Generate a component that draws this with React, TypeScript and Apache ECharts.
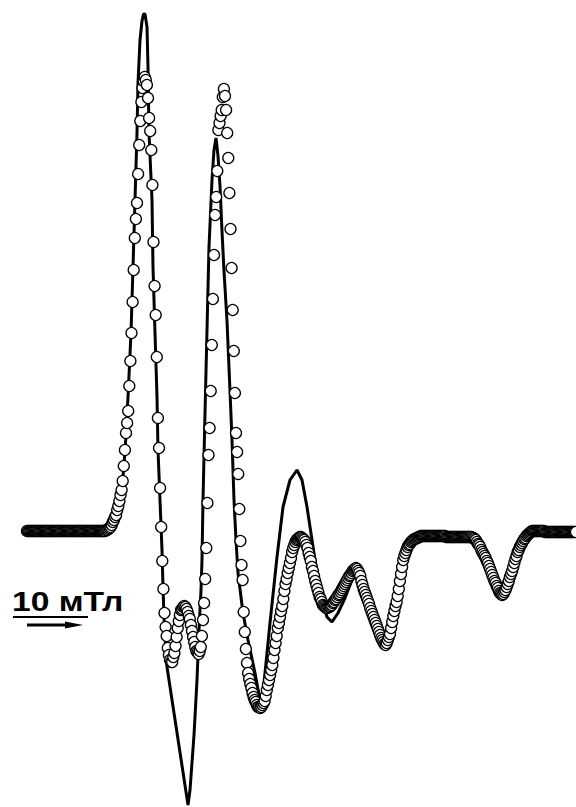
import React, { useEffect, useRef } from "react";
import * as echarts from "echarts";

// Experimental spectrum: uniform field sampling (arbitrary field units), signal in arbitrary units
const EXP_FIELD_START = 27;
const EXP_FIELD_STEP = 1.1;
const expSignal: number[] = [
  0, 0, 0, 0, 0, 0, 0, 0, 0, 0,
  0, 0, 0, 0, 0, 0, 0, 0, 0, 0,
  0, 0, 0, 0, 0, 0, 0, 0, 0, 0,
  0, 0, 0, 0, 0, 0, 0, 0, 0, 0,
  0, 0, 0, 0, 0, 0, 0, 0, 0, 0,
  0, 0, 0, 0, 0, 0, 0, 0, 0, 0,
  0, 0, 0, 0, 0, 0, 0, 0, 0, 0,
  0, 0, 1, 1, 2, 3, 4, 6, 9, 11,
  14, 16, 21, 25, 30, 36, 41, 50, 65, 81,
  98, 108, 120, 145, 170, 198, 229, 261, 293, 312,
  328, 357, 386, 410, 429, 443, 450, 454, 451, 446,
  433, 413, 400, 381, 346, 289, 245, 216, 174, 113,
  83, 43, 4, -30, -58, -82, -96, -105, -117, -124,
  -129, -131, -131, -126, -122, -115, -106, -97, -90, -84,
  -79, -78, -76, -75, -76, -78, -81, -85, -88, -94,
  -100, -106, -111, -116, -120, -121, -123, -120, -116, -105,
  -89, -72, -48, -17, 28, 76, 103, 140, 186, 232,
  276, 316, 334, 360, 401, 408, 415, 421, 434, 442,
  435, 421, 398, 373, 338, 302, 263, 221, 180, 138,
  98, 79, 57, 22, -10, -34, -49, -81, -101, -118,
  -132, -142, -148, -153, -157, -162, -166, -169, -171, -174,
  -176, -176, -177, -176, -174, -172, -170, -165, -159, -154,
  -149, -144, -139, -134, -127, -119, -112, -105, -97, -92,
  -86, -80, -75, -68, -60, -53, -48, -42, -37, -32,
  -27, -21, -17, -14, -11, -9, -8, -7, -6, -6,
  -7, -8, -9, -11, -14, -17, -22, -26, -30, -36,
  -40, -45, -50, -54, -58, -62, -66, -68, -71, -74,
  -75, -76, -77, -77, -76, -76, -75, -74, -72, -71,
  -69, -68, -66, -64, -63, -61, -59, -57, -55, -53,
  -51, -49, -47, -45, -44, -42, -40, -39, -38, -37,
  -38, -40, -42, -45, -50, -54, -58, -61, -64, -67,
  -70, -73, -77, -80, -83, -86, -89, -92, -95, -98,
  -101, -104, -107, -109, -111, -113, -114, -112, -109, -106,
  -103, -97, -91, -85, -80, -75, -71, -65, -58, -50,
  -43, -36, -29, -25, -22, -19, -16, -14, -13, -11,
  -10, -9, -8, -8, -7, -7, -6, -6, -5, -5,
  -5, -5, -5, -5, -5, -5, -5, -5, -5, -5,
  -5, -5, -5, -5, -5, -5, -5, -5, -5, -5,
  -5, -6, -6, -6, -6, -6, -6, -6, -6, -6,
  -6, -6, -6, -6, -6, -6, -6, -6, -6, -6,
  -6, -6, -6, -6, -6, -7, -7, -8, -9, -11,
  -13, -14, -16, -19, -21, -23, -25, -27, -30, -32,
  -35, -38, -41, -44, -47, -50, -52, -55, -57, -60,
  -62, -63, -64, -63, -61, -59, -56, -53, -50, -46,
  -43, -40, -36, -32, -28, -25, -21, -19, -16, -14,
  -12, -10, -8, -7, -5, -4, -3, -2, -1, 0,
  0, 0, 0, 0, 0, 0, 0, 0, 0, 0,
  0, -1, -1, -1, -1, -1, -1, -1, -1, -1,
  -1, -1, -1, -1, -1, -1, -1, -1, -1, -1,
  -1, -1, -1, -1, -1, -1, -1, -1, -1, -1,
];

// Simulated spectrum (solid line)
const simField: number[] = [
  27, 104, 108, 112, 116, 119, 122, 124, 126, 128,
  131, 133, 135, 137, 138, 140, 142, 143.5, 145, 147,
  148, 149, 152, 153, 155, 157, 158, 160, 162, 163,
  164, 166, 167, 188, 190, 194, 197, 199, 201, 202,
  203, 205, 207, 209, 212, 214, 216, 218, 220, 222,
  224, 227, 230, 232, 234, 236, 238, 243, 248, 255,
  260, 262, 265, 270, 277, 283, 290, 297, 302, 307,
  312, 317, 322, 327, 332, 338, 345, 350, 355, 358,
  363, 370, 377, 382, 386, 390, 393, 397, 400, 403,
  408, 415, 425, 470, 475, 480, 487, 493, 500, 503,
  507, 512, 517, 523, 533, 576,
];
const simSignal: number[] = [
  0, 0, 2, 8, 17, 29, 44, 66, 95, 134,
  198, 264, 331, 398, 448, 491, 510, 517, 517, 504,
  464, 398, 331, 264, 198, 134, 81, 31, -19, -56,
  -86, -122, -136, -274, -259, -204, -149, -99, -59, -29,
  31, 118, 201, 284, 351, 381, 393, 375, 345, 300,
  260, 210, 140, 91, 31, -9, -42, -82, -109, -142,
  -169, -172, -142, -92, -26, 24, 51, 61, 51, 24,
  -9, -42, -69, -86, -91, -82, -67, -54, -39, -36,
  -54, -76, -96, -109, -114, -104, -87, -69, -49, -31,
  -15, -8, -5, -6, -7, -16, -31, -47, -62, -64,
  -57, -40, -23, -10, -1, 0,
];

const scaleLabel = "10 мТл";

export default function App() {
  const ref = useRef<HTMLDivElement>(null);
  useEffect(() => {
    if (!ref.current) return;
    const chart = echarts.init(ref.current, null, { renderer: "svg" });
    const expData = expSignal.map((v, i) => [EXP_FIELD_START + i * EXP_FIELD_STEP, v]);
    const simData = simField.map((f, i) => [f, simSignal[i]]);
    chart.setOption({
      animation: false,
      backgroundColor: "#fff",
      grid: { left: 0, right: 0, top: 0, bottom: 0 },
      xAxis: { type: "value", min: 0, max: 576, show: false },
      yAxis: { type: "value", min: -276, max: 531, show: false },
      series: [
        {
          type: "line",
          data: simData,
          symbol: "none",
          lineStyle: { color: "#000", width: 3 },
          z: 2,
          silent: true,
        },
        {
          type: "scatter",
          data: expData,
          symbol: "circle",
          symbolSize: 11,
          itemStyle: { color: "#fff", borderColor: "#000", borderWidth: 1.3, opacity: 1 },
          z: 3,
          silent: true,
        },
      ],
      graphic: [
        {
          type: "text",
          x: 12,
          y: 587,
          scaleX: 1.2,
          style: {
            text: scaleLabel,
            x: 0,
            y: 0,
            align: "left",
            verticalAlign: "top",
            fontFamily: '"Liberation Sans", Arial, sans-serif',
            fontWeight: "bold",
            fontSize: 28,
            fill: "#000",
          },
        },
        {
          type: "line",
          shape: { x1: 13, y1: 617, x2: 88, y2: 617 },
          style: { stroke: "#000", lineWidth: 2 },
        },
        {
          type: "line",
          shape: { x1: 27, y1: 625, x2: 70, y2: 625 },
          style: { stroke: "#000", lineWidth: 3 },
        },
        {
          type: "polygon",
          shape: { points: [[65, 621.5], [83, 625], [65, 628.5]] },
          style: { fill: "#000" },
        },
      ],
    });
    return () => chart.dispose();
  }, []);
  return (
    <div
      ref={ref}
      style={{ position: "fixed", left: 0, top: 0, width: 576, height: 807, background: "#fff" }}
    />
  );
}
